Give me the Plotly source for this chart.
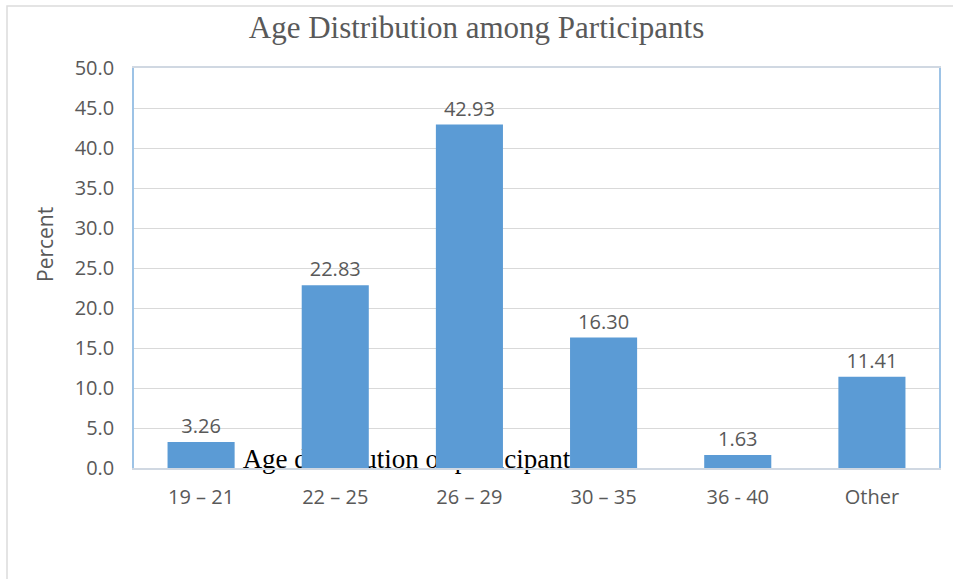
import plotly.graph_objects as go

# Age groups and share of participants (%)
age_groups = ["19 – 21", "22 – 25", "26 – 29", "30 – 35", "36 - 40", "Other"]
percent = [3.26, 22.83, 42.93, 16.30, 1.63, 11.41]
y_ticks = [0, 5, 10, 15, 20, 25, 30, 35, 40, 45, 50]

chart_title = "Age Distribution among Participants"
caption = "Age distribution of participants"
y_title = "Percent"

GREY_TXT = "#595959"
BAR_BLUE = "#5B9BD5"
SANS = "Open Sans, Liberation Sans, sans-serif"
SERIF = "Liberation Serif, Times New Roman, serif"

# Plot-area geometry in pixels
L, R, T, B = 134, 14, 68, 111
W, H = 953, 579
PW, PH = W - L - R, H - T - B

fig = go.Figure()

# Caption text sits on the base axes so the bars (overlay axes) cover it
fig.add_trace(go.Scatter(
    x=[0.345], y=[0.017], mode="text", text=[caption],
    textposition="middle center", cliponaxis=False,
    textfont=dict(family=SERIF, size=27, color="#000000"),
    xaxis="x", yaxis="y", hoverinfo="skip", showlegend=False,
))

fig.add_trace(go.Bar(
    x=age_groups, y=percent,
    marker=dict(color=BAR_BLUE, line=dict(width=0)),
    text=[f"{v:.2f}" for v in percent], textposition="outside",
    textfont=dict(family=SANS, size=20, color=GREY_TXT),
    cliponaxis=False,
    xaxis="x2", yaxis="y2", showlegend=False,
))

fig.update_layout(
    width=W, height=H,
    margin=dict(l=L, r=R, t=T, b=B),
    paper_bgcolor="white", plot_bgcolor="white",
    bargap=0.5,
    title=dict(text=chart_title, x=0.5, xanchor="center",
               y=1 - 27 / H, yanchor="middle", yref="container",
               font=dict(family=SERIF, size=31, color=GREY_TXT)),
    xaxis=dict(range=[0, 1], visible=False, fixedrange=True),
    yaxis=dict(range=[0, 1], visible=False, fixedrange=True),
    xaxis2=dict(overlaying="x", side="bottom", showgrid=False,
                showline=True, mirror=True, linecolor="#d0d8e2", linewidth=1.5,
                ticks="", tickfont=dict(family=SANS, size=20, color=GREY_TXT),
                ticklabelstandoff=10),
    yaxis2=dict(overlaying="y", side="left", range=[0, 50],
                tickvals=y_ticks, ticktext=[f"{v:.1f}" for v in y_ticks],
                showgrid=True, gridcolor="#d9d9d9", gridwidth=1,
                showline=True, mirror=True, linecolor="#9dc3e6", linewidth=1.5,
                zeroline=False, ticks="", ticklabelstandoff=14,
                tickfont=dict(family=SANS, size=20, color=GREY_TXT)),
    annotations=[dict(text=y_title, textangle=-90, showarrow=False,
                      xref="paper", yref="paper",
                      x=(45 - L) / PW, y=(H - B - 245) / PH,
                      xanchor="center", yanchor="middle",
                      font=dict(family=SANS, size=21, color=GREY_TXT))],
    shapes=[dict(type="rect", xref="paper", yref="paper",
                 x0=-(L - 7) / PW, x1=1 + 40 / PW,
                 y0=-0.4, y1=1 + 62 / PH,
                 line=dict(color="#dcdcdc", width=1.5), layer="below")],
)

fig.write_html("out.html")
